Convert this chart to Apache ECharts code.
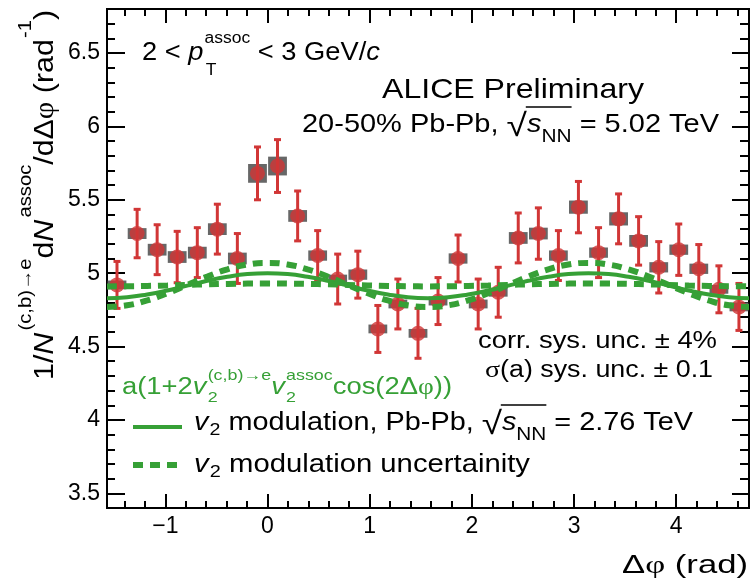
<!DOCTYPE html>
<html><head><meta charset="utf-8">
<script src="https://cdn.jsdelivr.net/npm/echarts@6/dist/echarts.min.js"></script>
<style>html,body{margin:0;padding:0;background:#fff}#c{width:750px;height:586px}</style>
</head><body><div id="c"></div>
<script>
// ---------------- data ----------------
const dphi = [-1.473,-1.276,-1.080,-0.884,-0.687,-0.491,-0.295,-0.098,0.098,0.295,0.491,0.687,0.884,1.080,1.276,1.473,1.669,1.865,2.062,2.258,2.454,2.651,2.847,3.043,3.240,3.436,3.632,3.829,4.025,4.221,4.418,4.614];
const yieldVals = [4.92,5.27,5.16,5.11,5.14,5.30,5.10,5.68,5.73,5.39,5.12,4.96,4.99,4.62,4.79,4.59,4.81,5.10,4.79,4.87,5.24,5.27,5.12,5.45,5.14,5.37,5.22,5.04,5.16,5.03,4.89,4.77];
const statErr = [0.16,0.165,0.17,0.175,0.17,0.17,0.17,0.18,0.18,0.17,0.17,0.17,0.16,0.16,0.17,0.17,0.16,0.16,0.17,0.17,0.17,0.175,0.17,0.175,0.17,0.17,0.165,0.175,0.175,0.165,0.16,0.16];
const sysErr = [0.03,0.037,0.04,0.04,0.04,0.04,0.04,0.064,0.064,0.04,0.035,0.03,0.035,0.03,0.03,0.03,0.03,0.035,0.03,0.03,0.04,0.04,0.035,0.045,0.035,0.045,0.04,0.035,0.035,0.035,0.03,0.03];

const curveX = [-1.5708,-1.3744,-1.1781,-0.9817,-0.7854,-0.5890,-0.3927,-0.1963,0,0.1963,0.3927,0.5890,0.7854,0.9817,1.1781,1.3744,1.5708,1.7671,1.9635,2.1598,2.3562,2.5525,2.7489,2.9452,3.1416,3.3379,3.5343,3.7306,3.9270,4.1233,4.3197,4.5160,4.7124];
const v2Central = [4.830,4.836,4.855,4.882,4.915,4.948,4.975,4.994,5.000,4.994,4.975,4.948,4.915,4.882,4.855,4.836,4.830,4.836,4.855,4.882,4.915,4.948,4.975,4.994,5.000,4.994,4.975,4.948,4.915,4.882,4.855,4.836,4.830];
const v2BandWide = [4.770,4.781,4.814,4.863,4.920,4.977,5.026,5.059,5.070,5.059,5.026,4.977,4.920,4.863,4.814,4.781,4.770,4.781,4.814,4.863,4.920,4.977,5.026,5.059,5.070,5.059,5.026,4.977,4.920,4.863,4.814,4.781,4.770];
const v2BandFlat = [4.910,4.911,4.913,4.916,4.920,4.924,4.927,4.929,4.930,4.929,4.927,4.924,4.920,4.916,4.913,4.911,4.910,4.911,4.913,4.916,4.920,4.924,4.927,4.929,4.930,4.929,4.927,4.924,4.920,4.916,4.913,4.911,4.910];

const xMajorTicks = [-1,0,1,2,3,4];
const xMinorTicks = [-1.4,-1.2,-0.8,-0.6,-0.4,-0.2,0.2,0.4,0.6,0.8,1.2,1.4,1.6,1.8,2.2,2.4,2.6,2.8,3.2,3.4,3.6,3.8,4.2,4.4,4.6];
const yMajorTicks = [3.5,4,4.5,5,5.5,6,6.5];
const yMinorTicks = [3.4,3.6,3.7,3.8,3.9,4.1,4.2,4.3,4.4,4.6,4.7,4.8,4.9,5.1,5.2,5.3,5.4,5.6,5.7,5.8,5.9,6.1,6.2,6.3,6.4,6.6,6.7,6.8];

// ---------------- style ----------------
const X_MIN = -Math.PI/2, X_MAX = 3*Math.PI/2, Y_MIN = 3.4, Y_MAX = 6.8;
const RED = '#d13636', GREY = '#676767', GREEN = '#36a036';
const SANS = '"Liberation Sans", Arial, Helvetica, sans-serif';
const SERIF = '"Liberation Serif", "Times New Roman", serif';
const BOX_HW = 0.092;

const mc = document.createElement('canvas').getContext('2d');
function fnt(p){ return (p.it?'italic ':'') + p.size + 'px ' + (p.serif?SERIF:SANS); }
function wOf(p){ mc.font = fnt(p); return mc.measureText(p.t).width; }
function midOff(p){ mc.font = fnt(p); mc.textBaseline = 'middle'; const m = mc.measureText('H'); mc.textBaseline = 'alphabetic'; return m.actualBoundingBoxDescent; }
function richLine(o){
  const kids = []; let cx = 0; let ovStart = 0; const fill = o.fill || '#000';
  const place = (p, x) => {
    kids.push({type:'text', x: x + (p.dx||0), y: (p.dy||0) - midOff(p),
      style:{text:p.t, font:fnt(p), fill:p.fill||fill, textAlign:'left', textVerticalAlign:'middle'}});
    return wOf(p) + (p.dx||0);
  };
  for (const p of o.parts){
    if (p.ov === 'start'){ ovStart = cx; continue; }
    if (p.ov === 'end'){ kids.push({type:'line', shape:{x1:ovStart+(p.x1||0), y1:p.y, x2:cx, y2:p.y}, style:{stroke:fill, lineWidth:p.w||1.5}}); continue; }
    if (p.stack){ let mw = 0; for (const q of p.stack) mw = Math.max(mw, place(q, cx)); cx += mw; continue; }
    cx += place(p, cx);
  }
  let sx = o.scaleX || 1; if (o.width) sx = o.width / cx;
  let gx = o.x; if (o.align === 'right') gx = o.x - cx * sx;
  return {type:'group', x:gx, y:o.y, scaleX:sx, rotation:o.rotation||0, children:kids, z:100};
}

const texts = [
  richLine({x:142, y:60, width:238, parts:[
    {t:'2 < ', size:25}, {t:'p', size:25, it:true},
    {stack:[{t:'assoc', size:16, dy:-17, dx:1}, {t:'T', size:16, dy:15, dx:2}]},
    {t:' < 3 GeV/', size:25}, {t:'c', size:25, it:true}]}),
  richLine({x:382, y:98, width:262, parts:[{t:'ALICE Preliminary', size:28}]}),
  richLine({x:302, y:132, width:417, parts:[
    {t:'20-50% Pb-Pb, ', size:25}, {t:'\u221A', size:32, dy:4}, {ov:'start'},
    {t:'s', size:25, it:true}, {t:'NN', size:18, dy:10}, {ov:'end', y:-25, x1:-1},
    {t:' = 5.02 TeV', size:25}]}),
  richLine({x:717, y:348, width:239, align:'right', parts:[{t:'corr. sys. unc. \u00B1 4%', size:23}]}),
  richLine({x:713, y:377, width:228, align:'right', parts:[{t:'\u03C3', size:24, serif:true}, {t:'(a) sys. unc. \u00B1 0.1', size:23}]}),
  richLine({x:122, y:394, width:330, fill:GREEN, parts:[
    {t:'a(1+2', size:23}, {t:'v', size:23, it:true},
    {stack:[{t:'(c,b)\u2192e', size:15, dy:-14, dx:1}, {t:'2', size:15, dy:8, dx:1}]},
    {t:'v', size:23, it:true},
    {stack:[{t:'assoc', size:15, dy:-14, dx:1}, {t:'2', size:15, dy:8, dx:1}]},
    {t:'cos(2\u0394', size:23}, {t:'\u03C6', size:23, serif:true}, {t:'))', size:23}]}),
  richLine({x:194, y:430, width:499, parts:[
    {t:'v', size:25, it:true}, {t:'2', size:17, dy:5, dx:1}, {t:' modulation, Pb-Pb, ', size:25},
    {t:'\u221A', size:32, dy:4}, {ov:'start'},
    {t:'s', size:25, it:true}, {t:'NN', size:18, dy:10}, {ov:'end', y:-25, x1:-1},
    {t:' = 2.76 TeV', size:25}]}),
  richLine({x:194, y:472, width:336, parts:[
    {t:'v', size:25, it:true}, {t:'2', size:17, dy:5, dx:1}, {t:' modulation uncertainity', size:25}]}),
  richLine({x:748, y:573, width:126, align:'right', parts:[
    {t:'\u0394', size:26}, {t:'\u03C6', size:26, serif:true}, {t:' (rad)', size:26}]}),
  richLine({x:53, y:380, width:370, rotation:Math.PI/2, parts:[
    {t:'1/', size:27}, {t:'N', size:27, it:true},
    {t:'(c,b)\u2192e', size:18, dy:-22, dx:2},
    {t:'d', size:27}, {t:'N', size:27, it:true},
    {t:'assoc', size:18, dy:-22, dx:2},
    {t:'/d\u0394', size:27}, {t:'\u03C6', size:27, serif:true},
    {t:' (rad', size:27}, {t:'-1', size:18, dy:-22, dx:1}, {t:')', size:27}]}),
  {type:'line', shape:{x1:133, y1:427, x2:182, y2:427}, style:{stroke:GREEN, lineWidth:4}, z:100},
  {type:'line', shape:{x1:133, y1:465, x2:182, y2:465}, style:{stroke:GREEN, lineWidth:6, lineDash:[10,7]}, z:100}
];

const tickStyle = {color:'#000', width:2};
function xAx(pos, len, vals, labels){
  return {type:'value', min:X_MIN, max:X_MAX, position:pos, axisLine:{show:false, onZero:false}, splitLine:{show:false},
    axisTick:{show:true, inside:true, length:len, customValues:vals, lineStyle:tickStyle},
    axisLabel: labels ? {show:true, customValues:vals, color:'#000', fontSize:23, fontFamily:SANS, margin:7,
      formatter: v => (v < 0 ? '\u2212' : '') + Math.abs(v)} : {show:false}};
}
function yAx(pos, len, vals, labels){
  return {type:'value', min:Y_MIN, max:Y_MAX, position:pos, axisLine:{show:false, onZero:false}, splitLine:{show:false},
    axisTick:{show:true, inside:true, length:len, customValues:vals, lineStyle:tickStyle},
    axisLabel: labels ? {show:true, customValues:vals, color:'#000', fontSize:23, fontFamily:SANS, margin:7,
      formatter: v => String(v)} : {show:false}};
}

const chart = echarts.init(document.getElementById('c'));
chart.setOption({
  animation:false,
  backgroundColor:'#fff',
  grid:{left:107, right:1, top:9, bottom:78, show:true, borderColor:'#000', borderWidth:2, backgroundColor:'transparent', outerBoundsMode:'none', containLabel:false},
  xAxis:[xAx('bottom',14,xMajorTicks,true), xAx('bottom',7,xMinorTicks,false), xAx('top',14,xMajorTicks,false), xAx('top',7,xMinorTicks,false)],
  yAxis:[yAx('left',18,yMajorTicks,true), yAx('left',8,yMinorTicks,false), yAx('right',17,yMajorTicks,false), yAx('right',9,yMinorTicks,false)],
  series:[
    {type:'custom', name:'sys', z:2, xAxisIndex:0, yAxisIndex:0,
      data: dphi.map((x,i)=>[x, yieldVals[i], sysErr[i]]),
      renderItem:(params, api)=>{
        const x = api.value(0), y = api.value(1), s = api.value(2);
        const a = api.coord([x-BOX_HW, y+s]), b = api.coord([x+BOX_HW, y-s]);
        return {type:'rect', shape:{x:a[0], y:a[1], width:b[0]-a[0], height:b[1]-a[1]}, style:{fill:GREY}};
      }},
    {type:'custom', name:'stat', z:3, xAxisIndex:0, yAxisIndex:0,
      data: dphi.map((x,i)=>[x, yieldVals[i], statErr[i]]),
      renderItem:(params, api)=>{
        const x = api.value(0), y = api.value(1), e = api.value(2);
        const t = api.coord([x, y+e]), b = api.coord([x, y-e]); const cw = 3.5;
        const st = {stroke:RED, lineWidth:3};
        return {type:'group', children:[
          {type:'line', shape:{x1:t[0], y1:t[1], x2:b[0], y2:b[1]}, style:st},
          {type:'line', shape:{x1:t[0]-cw, y1:t[1], x2:t[0]+cw, y2:t[1]}, style:st},
          {type:'line', shape:{x1:b[0]-cw, y1:b[1], x2:b[0]+cw, y2:b[1]}, style:st}]};
      }},
    {type:'scatter', name:'data', z:4, xAxisIndex:0, yAxisIndex:0, symbol:'circle', symbolSize:15,
      itemStyle:{color:RED}, data: dphi.map((x,i)=>[x, yieldVals[i]])},
    {type:'line', name:'v2', z:5, smooth:true, showSymbol:false, symbol:'none', clip:true,
      lineStyle:{color:GREEN, width:4}, data: curveX.map((x,i)=>[x, v2Central[i]])},
    {type:'line', name:'v2 wide', z:5, smooth:true, showSymbol:false, symbol:'none', clip:true,
      lineStyle:{color:GREEN, width:6, type:[10,7]}, data: curveX.map((x,i)=>[x, v2BandWide[i]])},
    {type:'line', name:'v2 flat', z:5, smooth:true, showSymbol:false, symbol:'none', clip:true,
      lineStyle:{color:GREEN, width:6, type:[10,7]}, data: curveX.map((x,i)=>[x, v2BandFlat[i]])}
  ],
  graphic:{elements:texts}
});
</script></body></html>
